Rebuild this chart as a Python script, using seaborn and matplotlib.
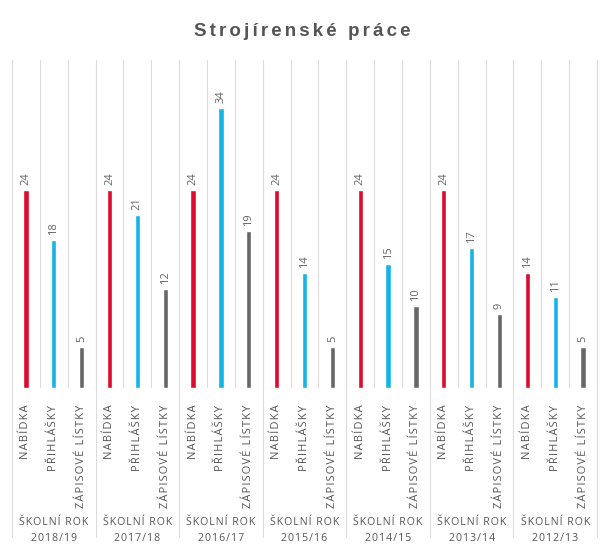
import pandas as pd
import matplotlib.pyplot as plt
import seaborn as sns

# Data
years = ["2018/19", "2017/18", "2016/17", "2015/16", "2014/15", "2013/14", "2012/13"]
types = ["NABÍDKA", "PŘIHLÁŠKY", "ZÁPISOVÉ LÍSTKY"]
nabidka = [24, 24, 24, 24, 24, 24, 14]
prihlasky = [18, 21, 34, 14, 15, 17, 11]
zapisove = [5, 12, 19, 5, 10, 9, 5]

colors = {"NABÍDKA": "#dc0a2d", "PŘIHLÁŠKY": "#14b4e6", "ZÁPISOVÉ LÍSTKY": "#676767"}


def spaced(s, sp="\u200a"):
    # fake letter spacing with narrow spaces
    return sp.join(s)


rows = []
for i, y in enumerate(years):
    for t, vals in zip(types, [nabidka, prihlasky, zapisove]):
        rows.append({"slot": f"{y} {t}", "typ": t, "rok": y, "value": vals[i]})
df = pd.DataFrame(rows)

sns.set_style("white")
plt.rcParams["font.family"] = ["Open Sans", "DejaVu Sans"]

fig = plt.figure(figsize=(6.05, 5.53), dpi=100)
ax = fig.add_axes([12 / 605, 1 - 388 / 553, 585 / 605, 328 / 553])

sns.barplot(data=df, x="slot", y="value", hue="typ", palette=colors,
            dodge=False, width=0.19, saturation=1, legend=False, ax=ax)

ax.set_xlim(-0.5, len(df) - 0.5)
ax.set_ylim(0, 39.8)
ax.set_yticks([])
ax.set_xlabel("")
ax.set_ylabel("")
for s in ax.spines.values():
    s.set_visible(False)

# light vertical lines between every bar slot
for b in range(len(df) + 1):
    ax.axvline(b - 0.5, color="#dcdcdc", lw=0.8, zorder=0)
# group separators reach down through the label area
for g in range(len(years) + 1):
    ax.axvline(g * 3 - 0.5, ymin=-0.455, ymax=1, color="#dcdcdc", lw=0.8,
               clip_on=False, zorder=0)
ax.axhline(0, color="#e3e3e3", lw=0.8, zorder=0)

# value labels
for i, v in enumerate(df["value"]):
    ax.text(i, v + 0.6, str(v), rotation=90, ha="center", va="bottom",
            fontsize=8, color="#666666")

ax.set_xticks(range(len(df)))
ax.set_xticklabels([spaced(t) for t in df["typ"]], rotation=90, fontsize=8,
                   color="#555555")
ax.tick_params(axis="x", length=0, pad=12)

# school-year group labels
for g, y in enumerate(years):
    ax.text(g * 3 + 1, -0.41, spaced("ŠKOLNÍ ROK"), transform=ax.get_xaxis_transform(),
            ha="center", va="center", fontsize=7.6, color="#555555")
    ax.text(g * 3 + 1, -0.46, spaced(y), transform=ax.get_xaxis_transform(),
            ha="center", va="center", fontsize=7.6, color="#555555")

fig.text(0.5, 1 - 32 / 553, spaced("Strojírenské práce", "\u2006"), ha="center",
         va="center", fontsize=13.5, fontweight="bold", color="#555555",
         family=["Liberation Sans", "DejaVu Sans"])

fig.savefig("out.png", dpi=100)
